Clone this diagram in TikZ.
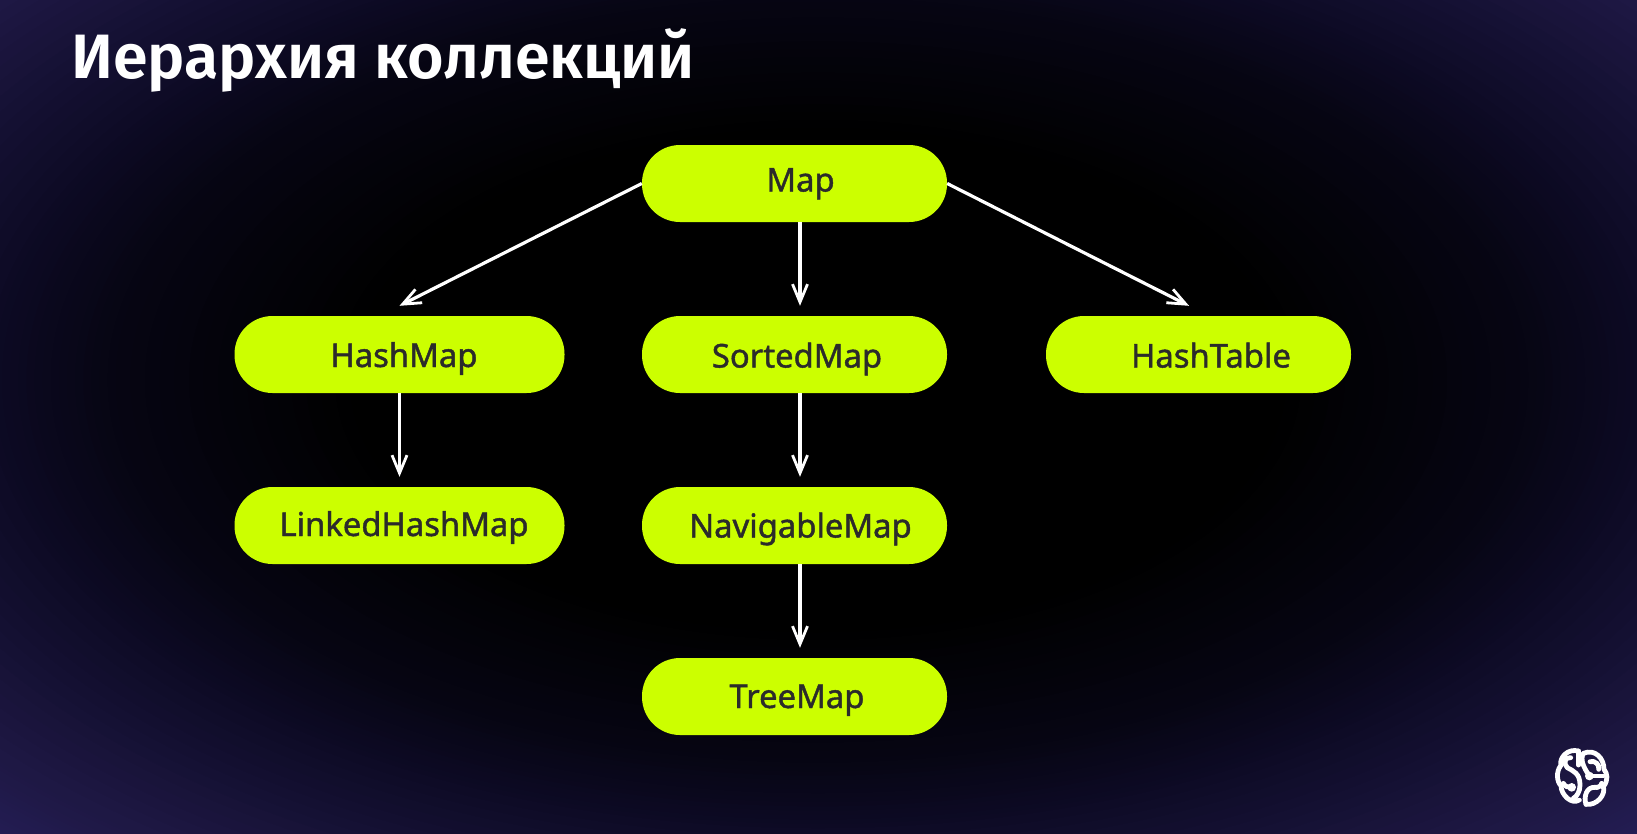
\documentclass[tikz,border=0pt]{standalone}
\usepackage{fontspec}
\setmainfont{Noto Sans}
\newfontfamily\titlefont{Fira Sans}[BoldFont={Fira Sans SemiBold}]
\newfontfamily\lblfont{Noto Sans}[FakeBold=1.3]
\usetikzlibrary{arrows.meta,calc}
\definecolor{pillc}{HTML}{CCFF00}
\definecolor{inkc}{HTML}{2B2B2B}
\definecolor{bga}{RGB}{6,5,18}
\definecolor{bgb}{RGB}{13,10,36}
\definecolor{bgc}{RGB}{30,24,68}
\definecolor{bgd}{RGB}{35,28,82}
\definecolor{bge}{RGB}{42,34,96}
\newcommand{\bgseg}[4]{%
  \foreach \k in {0,...,15}{%
    \pgfmathsetmacro\rr{#2-(#2-#1)*\k/16}%
    \pgfmathsetmacro\pp{100-100*\k/16}%
    \fill[#4!\pp!#3] (818,380) ellipse [x radius=26*\rr,y radius=14*\rr];
  }%
}
\tikzset{
  pill/.style={fill=pillc,rounded corners=38pt,minimum height=77pt,inner sep=0pt},
  wide/.style={minimum width=330pt},
  narrow/.style={minimum width=305pt},
  lbl/.style={text=inkc,font=\lblfont\fontsize{32.8}{38}\selectfont,inner sep=0pt,anchor=base},
  conn/.style={draw=white,line width=3.2pt,-{Straight Barb[length=18pt,width=15pt,line width=2.8pt]}},
  brain/.style={draw=white,line width=4.8pt,line cap=round,line join=round}
}
\begin{document}
\begin{tikzpicture}[x=1pt,y=-1pt]
\useasboundingbox (0,0) rectangle (1637,833);
\begin{scope}
\clip (0,0) rectangle (1637,833);
\fill[bge] (0,0) rectangle (1637,833);
\bgseg{45}{50}{bgd}{bge}
\bgseg{41.6}{45}{bgc}{bgd}
\bgseg{32}{41.6}{bgb}{bgc}
\bgseg{27}{32}{bga}{bgb}
\bgseg{18}{27}{black}{bga}
\fill[black] (818,380) ellipse [x radius=26*18,y radius=14*18];
\end{scope}
\node[anchor=base west,inner sep=0pt,text=white,font=\titlefont\bfseries\fontsize{62.7}{70}\selectfont] (title) at (71,78) {Иерархия коллекций};
% pills
\node[pill,narrow] (map) at (794.5,183.5) {};
\node[pill,wide] (hash) at (399.5,354.5) {};
\node[pill,narrow] (sorted) at (794.5,354.5) {};
\node[pill,narrow] (table) at (1198.5,354.5) {};
\node[pill,wide] (linked) at (399.5,525.5) {};
\node[pill,narrow] (nav) at (794.5,525.5) {};
\node[pill,narrow] (tree) at (794.5,696.5) {};
% labels
\node[lbl] (tmap) at (800.5,191.5) {Map};
\node[lbl] (thash) at (404,367) {HashMap};
\node[lbl] (tsorted) at (797,367.5) {SortedMap};
\node[lbl] (ttable) at (1211,367.5) {HashTable};
\node[lbl] (tlinked) at (404,536) {LinkedHashMap};
\node[lbl] (tnav) at (800.5,537.5) {NavigableMap};
\node[lbl] (ttree) at (797,708) {TreeMap};
% connectors
\draw[conn] (map.west) -- ([yshift=10pt]hash.north);
\draw[conn] (map.east) -- ([xshift=-9.5pt,yshift=10pt]table.north);
\draw[conn] ([xshift=5.5pt]map.south) -- ([xshift=5.5pt,yshift=10pt]sorted.north);
\draw[conn] ([xshift=5.5pt]sorted.south) -- ([xshift=5.5pt,yshift=10pt]nav.north);
\draw[conn] ([xshift=5.5pt]nav.south) -- ([xshift=5.5pt,yshift=10pt]tree.north);
\draw[conn] (hash.south) -- ([yshift=10pt]linked.north);
% logo
\begin{scope}[shift={(1550,745)},x=0.3333pt,y=-0.3333pt,brain]
\draw (85,18) .. controls (55,10) and (28,35) .. (32,62) .. controls (18,80) and (20,110) .. (33,122) .. controls (33,150) and (65,180) .. (88,165);
\draw (85,18) -- (85,60);
\draw (62,38) .. controls (45,35) and (38,55) .. (52,68) .. controls (70,78) and (90,85) .. (90,120) .. controls (90,140) and (80,155) .. (70,160);
\draw (40,115) .. controls (45,125) and (55,128) .. (65,127);
\draw (108,178) .. controls (140,182) and (168,150) .. (160,125) .. controls (176,105) and (172,85) .. (162,73) .. controls (162,40) and (135,10) .. (100,25) .. controls (90,45) and (100,65) .. (118,93);
\draw (118,93) -- (160,93);
\draw (120,50) .. controls (135,45) and (150,60) .. (146,73);
\draw (108,178) .. controls (100,155) and (110,125) .. (135,127) .. controls (145,130) and (155,120) .. (155,115);
\fill[white] (65,127) circle (13) (118,93) circle (13);
\end{scope}
\end{tikzpicture}
\end{document}
